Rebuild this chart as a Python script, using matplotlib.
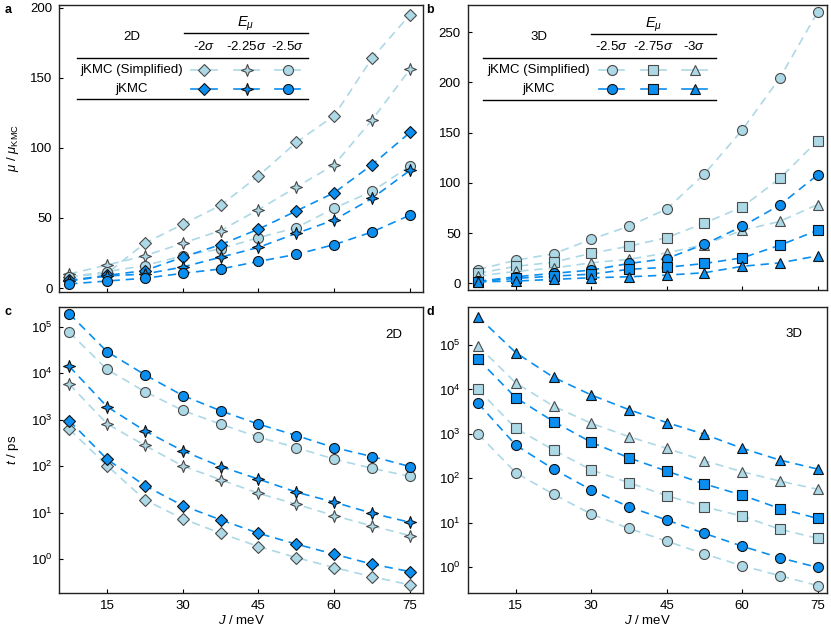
import numpy as np
import matplotlib.pyplot as plt
from matplotlib.path import Path
from matplotlib.lines import Line2D

plt.rcParams['font.family'] = ['Liberation Sans', 'DejaVu Sans']
plt.rcParams['mathtext.fontset'] = 'custom'
plt.rcParams['mathtext.it'] = 'Liberation Sans:italic'
plt.rcParams['mathtext.rm'] = 'Liberation Sans'

# x values (J / meV)
J = [7.5, 15, 22.5, 30, 37.5, 45, 52.5, 60, 67.5, 75]

# panel a: 2D mobility ratio
a_simp_20 = [8, 10.5, 32, 45.5, 59, 80, 104, 123, 164, 195]
a_simp_225 = [10, 16.4, 23, 32, 41, 56, 72, 88, 120, 156]
a_simp_25 = [8, 11.7, 16, 23, 28, 36, 43, 57, 69, 87]
a_jkmc_20 = [5.5, 9, 12.5, 22, 31, 42, 55, 68, 88, 111]
a_jkmc_225 = [5, 8.6, 10, 15, 22, 29, 39, 48.6, 64, 84]
a_jkmc_25 = [2.9, 5, 7, 10.5, 13.6, 19, 24, 31, 40, 52]

# panel b: 3D mobility ratio
b_simp_25 = [13.8, 23, 29.5, 43.8, 57, 74, 109, 152.5, 204.6, 270]
b_simp_275 = [10, 17, 21, 30, 37, 45.5, 60, 76, 104.6, 142]
b_simp_30 = [7.2, 12, 15.2, 20.5, 24, 30.3, 38.6, 52.8, 61.7, 78.5]
b_jkmc_25 = [2, 6.6, 10, 13.2, 19.8, 24.7, 39, 56.7, 78, 108]
b_jkmc_275 = [1.8, 5, 7.2, 9.2, 14, 16, 19.8, 25.4, 38, 52.8]
b_jkmc_30 = [1.5, 2.3, 4, 5.6, 6.6, 8.2, 10.6, 17, 20.4, 27.4]

# panel c: 2D time
c_simp_20 = [625, 103, 18.8, 7.4, 3.6, 1.87, 1.08, 0.66, 0.42, 0.28]
c_jkmc_20 = [955, 141, 38, 14.2, 7, 3.6, 2.1, 1.28, 0.78, 0.54]
c_simp_225 = [5800, 815, 278, 101, 51, 26, 15.2, 8.6, 5.2, 3.2]
c_jkmc_225 = [14000, 1900, 575, 213, 98, 52.6, 27.6, 16.8, 9.7, 6.2]
c_simp_25 = [76000, 12000, 4000, 1580, 800, 420, 250, 141, 90, 60]
c_jkmc_25 = [190000, 29000, 9200, 3300, 1550, 800, 455, 250, 161, 98]

# panel d: 3D time
d_simp_25 = [1000, 134, 44, 15.8, 7.5, 3.9, 2.0, 1.09, 0.65, 0.39]
d_jkmc_25 = [4900, 560, 162, 55, 23, 11.6, 5.8, 3.0, 1.64, 1.0]
d_simp_275 = [10000, 1330, 435, 155, 80, 41, 23, 14.2, 7.2, 4.5]
d_jkmc_275 = [48000, 6500, 1900, 650, 290, 146, 75, 42, 21, 12.6]
d_simp_30 = [95000, 14000, 4200, 1730, 865, 475, 250, 141, 87, 57]
d_jkmc_30 = [430000, 67000, 18700, 7500, 3500, 1800, 980, 475, 258, 162]

light = '#ADD8E6'
dark = '#0A8EF0'
FS = 9.5

# 4-point star marker
star4 = Path([(0, 1), (0.28, 0.28), (1, 0), (0.28, -0.28), (0, -1),
              (-0.28, -0.28), (-1, 0), (-0.28, 0.28), (0, 1)], closed=True)


def style(kind, marker):
    ms = {'D': 6.2, 'o': 7.2, 's': 7.2, '^': 7.6}.get(marker, 8.6)
    if kind == 'light':
        return dict(color=light, marker=marker, markerfacecolor=light,
                    markeredgecolor='#4a4a4a', markersize=ms, markeredgewidth=0.8,
                    linestyle=(0, (5, 3.5)), linewidth=1.2)
    return dict(color=dark, marker=marker, markerfacecolor=dark,
                markeredgecolor='#111111', markersize=ms, markeredgewidth=0.8,
                linestyle=(0, (5, 3.5)), linewidth=1.2)


fig = plt.figure(figsize=(8.31, 6.36), dpi=100)
ax_a = fig.add_axes([0.0714, 0.5414, 0.4377, 0.4508])
ax_b = fig.add_axes([0.5628, 0.544, 0.4320, 0.448])
ax_c = fig.add_axes([0.0714, 0.0681, 0.4377, 0.4487])
ax_d = fig.add_axes([0.5628, 0.0681, 0.4320, 0.4487])

# panel a
for y, k, m in [(a_simp_20, 'light', 'D'), (a_simp_225, 'light', star4), (a_simp_25, 'light', 'o'),
                (a_jkmc_20, 'dark', 'D'), (a_jkmc_225, 'dark', star4), (a_jkmc_25, 'dark', 'o')]:
    ax_a.plot(J, y, **style(k, m))
ax_a.set_xlim(5.55, 77.6)
ax_a.set_ylim(-2.6, 202)
ax_a.set_yticks([0, 50, 100, 150, 200])
ax_a.set_ylabel(r'$\mu$ / $\mu_{\mathrm{KMC}}$', fontsize=FS)

# panel b
for y, k, m in [(b_simp_25, 'light', 'o'), (b_simp_275, 'light', 's'), (b_simp_30, 'light', '^'),
                (b_jkmc_25, 'dark', 'o'), (b_jkmc_275, 'dark', 's'), (b_jkmc_30, 'dark', '^')]:
    ax_b.plot(J, y, **style(k, m))
ax_b.set_xlim(5.44, 76.8)
ax_b.set_ylim(-6.6, 277)
ax_b.set_yticks([0, 50, 100, 150, 200, 250])

# panel c
for y, k, m in [(c_simp_20, 'light', 'D'), (c_jkmc_20, 'dark', 'D'),
                (c_simp_225, 'light', star4), (c_jkmc_225, 'dark', star4),
                (c_simp_25, 'light', 'o'), (c_jkmc_25, 'dark', 'o')]:
    ax_c.plot(J, y, **style(k, m))
ax_c.set_yscale('log')
ax_c.set_xlim(5.55, 77.6)
ax_c.set_ylim(0.19, 2.6e5)
ax_c.set_ylabel(r'$t$ / ps', fontsize=FS)
ax_c.set_xlabel(r'$J$ / meV', fontsize=FS, labelpad=2)
ax_c.text(0.92, 0.903, '2D', transform=ax_c.transAxes, ha='center', va='center', fontsize=FS)

# panel d
for y, k, m in [(d_simp_25, 'light', 'o'), (d_jkmc_25, 'dark', 'o'),
                (d_simp_275, 'light', 's'), (d_jkmc_275, 'dark', 's'),
                (d_simp_30, 'light', '^'), (d_jkmc_30, 'dark', '^')]:
    ax_d.plot(J, y, **style(k, m))
ax_d.set_yscale('log')
ax_d.set_xlim(5.44, 76.8)
ax_d.set_ylim(0.27, 7e5)
ax_d.set_xlabel(r'$J$ / meV', fontsize=FS, labelpad=2)
ax_d.text(0.908, 0.906, '3D', transform=ax_d.transAxes, ha='center', va='center', fontsize=FS)

for ax in [ax_a, ax_b, ax_c, ax_d]:
    ax.set_xticks([15, 30, 45, 60, 75])
    ax.tick_params(direction='in', length=3, width=0.8, labelsize=FS, pad=5, top=False, right=False)
    ax.tick_params(which='minor', left=False, right=False)
    for s in ax.spines.values():
        s.set_linewidth(1.0)
        s.set_color('#222222')
for ax in [ax_a, ax_b]:
    ax.set_xticklabels([])
for ax in [ax_c, ax_d]:
    ax.set_yticks([1, 10, 100, 1e3, 1e4, 1e5])
    ax.set_yticklabels([r'$10^{0}$', r'$10^{1}$', r'$10^{2}$', r'$10^{3}$', r'$10^{4}$', r'$10^{5}$'])

ax_a.yaxis.set_label_coords(-0.105, 0.5)
ax_c.yaxis.set_label_coords(-0.105, 0.5)


# table-like legends
def table_legend(ax, title, cols, colx, markers, labx, hx, y_title, y_top, y_cols, y_mid, y_r1, y_r2, y_bot, x0, x1):
    tr = ax.transAxes
    ax.text(labx, y_title, title, transform=tr, ha='center', va='center', fontsize=FS)
    ax.text(np.mean(hx), y_top + 0.033, r'$E_{\mu}$', transform=tr, ha='center', va='center', fontsize=10.5)
    ax.add_line(Line2D(hx, [y_top, y_top], transform=tr, color='black', linewidth=1.0))
    for cx, c in zip(colx, cols):
        ax.text(cx, y_cols, c, transform=tr, ha='center', va='center', fontsize=FS)
    ax.add_line(Line2D([x0, x1], [y_mid, y_mid], transform=tr, color='black', linewidth=1.0))
    ax.text(labx, y_r1, 'jKMC (Simplified)', transform=tr, ha='center', va='center', fontsize=FS)
    ax.text(labx, y_r2, 'jKMC', transform=tr, ha='center', va='center', fontsize=FS)
    for cx, m in zip(colx, markers):
        for yy, k in [(y_r1, 'light'), (y_r2, 'dark')]:
            st = style(k, m)
            st['linestyle'] = '-'
            ax.plot([cx - 0.035, cx + 0.035], [yy, yy], transform=tr, clip_on=False,
                    color=st['color'], linewidth=1.2)
            ax.plot([cx], [yy], transform=tr, clip_on=False, **st)
    ax.add_line(Line2D([x0, x1], [y_bot, y_bot], transform=tr, color='black', linewidth=1.0))


table_legend(ax_a, '2D', [r'-2$\sigma$', r'-2.25$\sigma$', r'-2.5$\sigma$'],
             [0.398, 0.515, 0.628], ['D', star4, 'o'], 0.199, [0.343, 0.683],
             0.889, 0.901, 0.855, 0.816, 0.773, 0.707, 0.671, 0.049, 0.683)
table_legend(ax_b, '3D', [r'-2.5$\sigma$', r'-2.75$\sigma$', r'-3$\sigma$'],
             [0.401, 0.517, 0.632], ['o', 's', '^'], 0.198, [0.343, 0.691],
             0.889, 0.898, 0.853, 0.813, 0.772, 0.704, 0.667, 0.043, 0.691)

# panel letters
fig.text(0.006, 0.985, 'a', fontsize=9, fontweight='bold', va='center')
fig.text(0.513, 0.985, 'b', fontsize=9, fontweight='bold', va='center')
fig.text(0.006, 0.51, 'c', fontsize=9, fontweight='bold', va='center')
fig.text(0.513, 0.51, 'd', fontsize=9, fontweight='bold', va='center')

fig.savefig('out.png', dpi=100)
